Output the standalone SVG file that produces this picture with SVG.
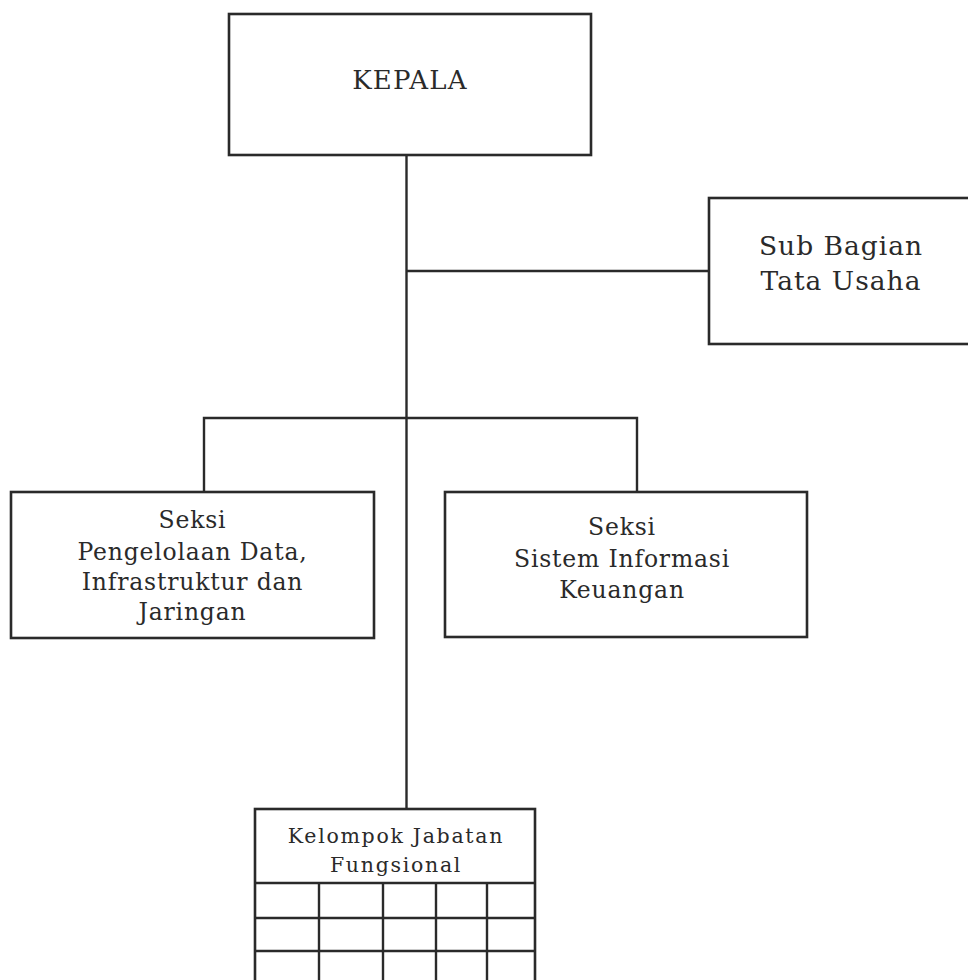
<svg xmlns="http://www.w3.org/2000/svg" width="968" height="980" viewBox="0 0 968 980">
<style>
.box{fill:#fff;stroke:#2a2a2a;stroke-width:2.6}
.ln{fill:none;stroke:#2a2a2a;stroke-width:2.4}
.t{font-family:"DejaVu Serif","Liberation Serif",serif;fill:#2a2a2a;text-anchor:middle}
</style>
<rect width="968" height="980" fill="#fff"/>
<g id="connectors">
<line class="ln" x1="406.5" y1="155" x2="406.5" y2="809"/>
<line class="ln" x1="406.5" y1="271" x2="709" y2="271"/>
<polyline class="ln" points="204,492 204,418 637,418 637,492"/>
</g>
<g id="kepala">
<rect class="box" x="229" y="14" width="362" height="141"/>
<text class="t" x="410" y="89" font-size="26" letter-spacing="1.2">KEPALA</text>
</g>
<g id="subbagian">
<rect class="box" x="709" y="198" width="270" height="146"/>
<text class="t" x="841" y="255" font-size="26.5" letter-spacing="1">Sub Bagian</text>
<text class="t" x="841" y="290" font-size="26.5" letter-spacing="1">Tata Usaha</text>
</g>
<g id="seksi-data">
<rect class="box" x="11" y="492" width="363" height="146"/>
<text class="t" x="192.5" y="528" font-size="23.5" letter-spacing="0.8">Seksi</text>
<text class="t" x="192.5" y="560" font-size="23.5" letter-spacing="0.8">Pengelolaan Data,</text>
<text class="t" x="192.5" y="590" font-size="23.5" letter-spacing="0.8">Infrastruktur dan</text>
<text class="t" x="192.5" y="620" font-size="23.5" letter-spacing="0.8">Jaringan</text>
</g>
<g id="seksi-keuangan">
<rect class="box" x="445" y="492" width="362" height="145"/>
<text class="t" x="622" y="535" font-size="23.5" letter-spacing="0.8">Seksi</text>
<text class="t" x="622" y="567" font-size="23.5" letter-spacing="0.8">Sistem Informasi</text>
<text class="t" x="622" y="598" font-size="23.5" letter-spacing="0.8">Keuangan</text>
</g>
<g id="kelompok">
<rect class="box" x="255" y="809" width="280" height="185"/>
<line class="ln" x1="255" y1="883" x2="535" y2="883"/>
<line class="ln" x1="255" y1="918" x2="535" y2="918"/>
<line class="ln" x1="255" y1="951" x2="535" y2="951"/>
<line class="ln" x1="319" y1="883" x2="319" y2="990"/>
<line class="ln" x1="383" y1="883" x2="383" y2="990"/>
<line class="ln" x1="436" y1="883" x2="436" y2="990"/>
<line class="ln" x1="487" y1="883" x2="487" y2="990"/>
<text class="t" x="396" y="843" font-size="20.5" letter-spacing="1.7">Kelompok Jabatan</text>
<text class="t" x="396" y="872" font-size="20.5" letter-spacing="1.7">Fungsional</text>
</g>
</svg>
